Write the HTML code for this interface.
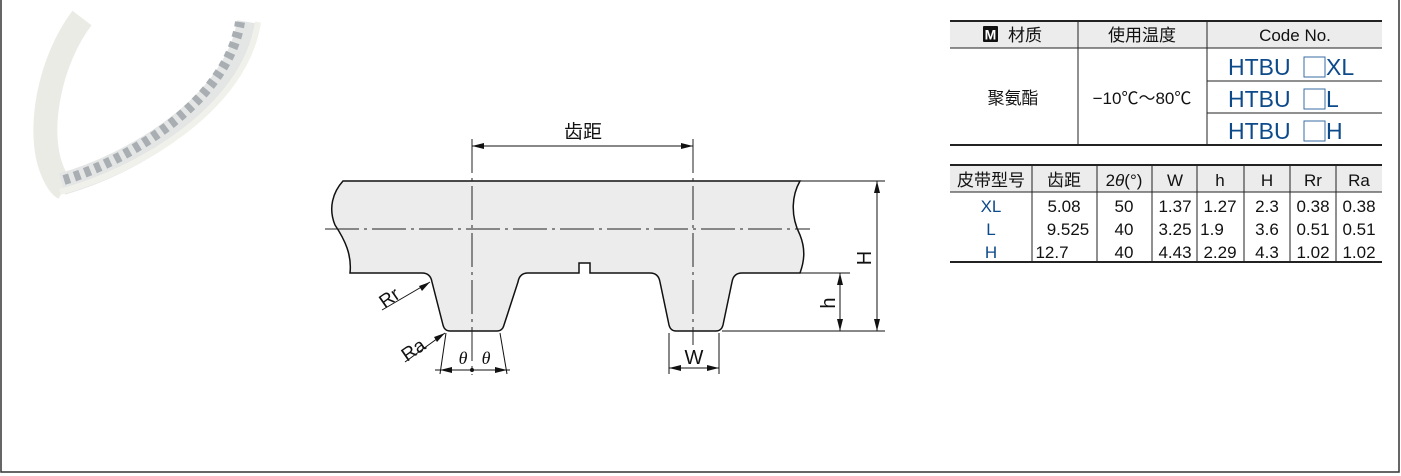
<!DOCTYPE html>
<html><head><meta charset="utf-8"><style>
body{margin:0;width:1401px;height:476px;background:#fff;position:relative;overflow:hidden;font-family:"Liberation Sans","Noto Sans CJK SC",sans-serif}
svg{position:absolute;left:0;top:0}
</style></head><body>
<svg width="1401" height="476" viewBox="0 0 1401 476" font-family="Liberation Sans, Noto Sans CJK SC, sans-serif">
<path d="M1 0 V472 H1399 V0" fill="none" stroke="#333" stroke-width="1.5"/>
<!-- belt photo -->
<g fill="none" stroke-linecap="butt">
<path d="M82 18 C50 60 36 130 52 170 C56 180 60 186 64 188" stroke="#ebebe6" stroke-width="24"/>
<path d="M62 184 C130 165 235 105 248 22" stroke="#e4e6e6" stroke-width="22"/>
<path d="M64 180 C130 160 228 100 240 22" stroke="#a9aeb3" stroke-width="10" stroke-dasharray="6 5"/>
<path d="M60 192 C135 172 245 110 258 22" stroke="#f1f1ec" stroke-width="6"/>
</g>
<!-- belt profile -->
<path d="M343 181 H800 C792 195 790 215 800 235 C806 250 804 262 800 273 H742 C736 273 733 276 732 282 L723 325 C722 329 720 331 716 331 H676 C672 331 670 329 669 325 L660 282 C659 276 656 273 650 273 H590 V263 H579 V273 H528 C522 273 519 276 518 282 L504 325 C503 329 501 331 497 331 H450 C446 331 444 329 443 325 L432 282 C431 276 428 273 422 273 H350 C352 255 345 240 335 225 C328 208 333 192 343 181 Z" fill="#ececec" stroke="#111" stroke-width="1.5"/>
<path d="M325 229 H810" stroke="#222" stroke-width="1" stroke-dasharray="34 5 3 5"/>
<path d="M472 139 V375 M693 139 V345" stroke="#222" stroke-width="1" stroke-dasharray="34 5 3 5"/>
<g stroke="#111" stroke-width="1" fill="none">
<path d="M472 146 H693"/>
<path d="M800 181 H885 M800 273 H850 M722 331 H885"/>
<path d="M877 181 V331 M840 273 V331"/>
<path d="M669 333 V374 M719 333 V374 M669 368 H719"/>
<path d="M446 333 L440 374 M500 333 L507 374 M435 370 H510"/>
<path d="M382 310 L430 282 M405 362 L445 333"/>
</g>
<g fill="#111">
<path d="M472 146 l12 -3 v6z M693 146 l-12 -3 v6z"/>
<path d="M877 181 l-3 12 h6z M877 331 l-3 -12 h6z M840 273 l-3 12 h6z M840 331 l-3 -12 h6z"/>
<path d="M669 368 l12 -3 v6z M719 368 l-12 -3 v6z"/>
<path d="M440 370 l12 -3 v6z M507 370 l-12 -3 v6z"/>
<path d="M430 282 l-11 4 3 5z M445 333 l-11 4 3 5z"/>
<circle cx="472" cy="370" r="2"/>
</g>
<g font-size="19" fill="#111">
<text x="583" y="138" text-anchor="middle">齿距</text>
<text x="694" y="364" text-anchor="middle" font-size="20">W</text>
<text x="463" y="364" text-anchor="middle" font-style="italic" font-family="Liberation Serif, serif" font-size="18">θ</text>
<text x="486" y="364" text-anchor="middle" font-style="italic" font-family="Liberation Serif, serif" font-size="18">θ</text>
<text transform="translate(871,258) rotate(-90)" text-anchor="middle" font-size="20">H</text>
<text transform="translate(835,303) rotate(-90)" text-anchor="middle" font-size="20">h</text>
<text transform="translate(393,303) rotate(-35)" text-anchor="middle">Rr</text>
<text transform="translate(417,355) rotate(-35)" text-anchor="middle">Ra</text>
</g>
<!-- table1 -->
<rect x="950" y="21" width="432" height="27" fill="#ececec"/>
<g stroke="#222" fill="none">
<path d="M950 21 H1382 M950 145 H1382" stroke-width="2"/>
<path d="M950 48 H1382 M1207 81 H1382 M1207 113 H1382 M1078 21 V145 M1207 21 V145" stroke-width="1"/>
</g>
<rect x="983" y="26" width="15" height="16" rx="1" fill="#111"/>
<text x="990.5" y="39.5" text-anchor="middle" fill="#fff" font-size="14" font-weight="bold">M</text>
<g font-size="17" fill="#111" text-anchor="middle">
<text x="1025" y="41">材质</text>
<text x="1142" y="41">使用温度</text>
<text x="1295" y="41">Code No.</text>
<text x="1013" y="104">聚氨酯</text>
<text x="1142" y="104">−10℃～80℃</text>
</g>
<g font-size="23" fill="#0d4a8a">
<text x="1228" y="75">HTBU</text><rect x="1304" y="57" width="21" height="20" fill="none" stroke="#3a6ea5"/><text x="1326" y="75">XL</text>
<text x="1228" y="107">HTBU</text><rect x="1304" y="89" width="21" height="20" fill="none" stroke="#3a6ea5"/><text x="1326" y="107">L</text>
<text x="1228" y="139">HTBU</text><rect x="1304" y="121" width="21" height="20" fill="none" stroke="#3a6ea5"/><text x="1326" y="139">H</text>
</g>
<!-- table2 -->
<rect x="950" y="165" width="432" height="27" fill="#ececec"/>
<g stroke="#222" fill="none">
<path d="M950 165 H1382 M950 262 H1382" stroke-width="2"/>
<path d="M950 192 H1382 M1032 165 V262 M1097 165 V262 M1152 165 V262 M1197 165 V262 M1244 165 V262 M1290 165 V262 M1336 165 V262" stroke-width="1"/>
</g>
<g font-size="17" fill="#111" text-anchor="middle">
<text x="991" y="186">皮带型号</text><text x="1064" y="186">齿距</text><text x="1124" y="186">2<tspan font-style="italic">θ</tspan>(°)</text>
<text x="1175" y="186">W</text><text x="1220" y="186">h</text><text x="1267" y="186">H</text><text x="1313" y="186">Rr</text><text x="1359" y="186">Ra</text>
<text x="1064" y="212">5.08</text><text x="1124" y="212">50</text><text x="1175" y="212">1.37</text><text x="1220" y="212">1.27</text><text x="1267" y="212">2.3</text><text x="1313" y="212">0.38</text><text x="1359" y="212">0.38</text>
<text x="1068" y="235">9.525</text><text x="1124" y="235">40</text><text x="1175" y="235">3.25</text><text x="1212" y="235">1.9</text><text x="1267" y="235">3.6</text><text x="1313" y="235">0.51</text><text x="1359" y="235">0.51</text>
<text x="1052" y="258">12.7</text><text x="1124" y="258">40</text><text x="1175" y="258">4.43</text><text x="1220" y="258">2.29</text><text x="1267" y="258">4.3</text><text x="1313" y="258">1.02</text><text x="1359" y="258">1.02</text>
</g>
<g font-size="17" fill="#0d4a8a" text-anchor="middle">
<text x="991" y="212">XL</text><text x="991" y="235">L</text><text x="991" y="258">H</text>
</g>
</svg>
</body></html>
